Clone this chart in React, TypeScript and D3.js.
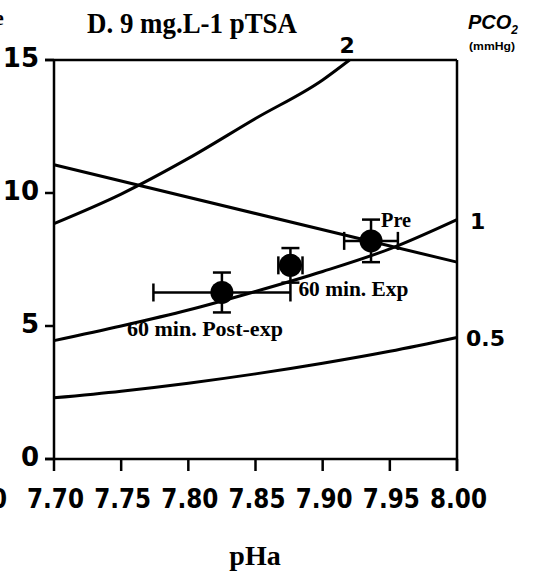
import { useEffect, useRef } from "react"
import * as d3 from "d3"

// pHa axis ticks and HCO3 axis ticks
const phTicks = [7.7, 7.75, 7.8, 7.85, 7.9, 7.95, 8.0]
const hco3Ticks = [0, 5, 10, 15]

// PCO2 isopleths
const isoPh = [7.7, 7.75, 7.8, 7.85, 7.9, 7.95, 8.0]
const isoHalf = [2.3, 2.55, 2.85, 3.2, 3.6, 4.05, 4.57]
const isoOne = [4.45, 5.0, 5.6, 6.3, 7.05, 7.9, 9.0]
const isoTwoPh = [7.7, 7.75, 7.8, 7.85, 7.9, 7.92]
const isoTwo = [8.85, 9.96, 11.3, 12.8, 14.25, 15.0]
const isoLabels = ["0.5", "1", "2"]

// non-bicarbonate buffer line
const bufferPh = [7.7, 8.0]
const bufferHco3 = [11.06, 7.4]

// mean values with error bars
const pointLabels = ["Pre", "60 min. Exp", "60 min. Post-exp"]
const pointPh = [7.936, 7.876, 7.825]
const pointHco3 = [8.2, 7.28, 6.26]
const pointPhErr = [0.02, 0.009, 0.051]
const pointHco3Err = [0.8, 0.65, 0.75]

export default function App() {
  const svgRef = useRef<SVGSVGElement>(null)

  useEffect(() => {
    if (!svgRef.current) return
    const svg = d3.select(svgRef.current)
    svg.selectAll("*").remove()

    const x = d3.scaleLinear().domain([7.7, 8.0]).range([54, 457])
    const y = d3.scaleLinear().domain([0, 15]).range([459, 60])
    const numFont = "'DejaVu Sans', sans-serif"
    const serif = "'Liberation Serif', 'Times New Roman', serif"

    // frame
    const frame = svg.append("g").attr("stroke", "#000").attr("stroke-width", 2.5).attr("fill", "none")
    frame.append("line").attr("x1", x(7.7)).attr("x2", x(7.7)).attr("y1", y(15)).attr("y2", y(0))
    frame.append("line").attr("x1", x(8.0)).attr("x2", x(8.0)).attr("y1", y(15)).attr("y2", y(0) + 12)
    frame.append("line").attr("x1", x(7.7) - 9).attr("x2", x(8.0)).attr("y1", y(15)).attr("y2", y(15))
    frame.append("line").attr("x1", x(7.7) - 9).attr("x2", x(8.0)).attr("y1", y(0)).attr("y2", y(0))

    // y ticks
    hco3Ticks.forEach((t) => {
      frame.append("line").attr("x1", x(7.7) - 9).attr("x2", x(7.7)).attr("y1", y(t)).attr("y2", y(t))
      svg
        .append("text")
        .attr("x", 39)
        .attr("y", y(t) - 2)
        .attr("dy", "0.36em")
        .attr("text-anchor", "end")
        .style("font-family", numFont)
        .style("font-weight", "bold")
        .style("font-size", "26px")
        .text(String(t))
    })

    // x ticks
    phTicks.forEach((t) => {
      frame.append("line").attr("x1", x(t)).attr("x2", x(t)).attr("y1", y(0)).attr("y2", y(0) + 12)
      svg
        .append("text")
        .attr("x", x(t) - 27)
        .attr("y", 508)
        .attr("textLength", 57)
        .attr("lengthAdjust", "spacingAndGlyphs")
        .style("font-family", numFont)
        .style("font-weight", "bold")
        .style("font-size", "27px")
        .text(t.toFixed(2))
    })

    // remnants of neighbouring panel
    svg
      .append("text")
      .attr("x", -50)
      .attr("y", 508)
      .attr("textLength", 57)
      .attr("lengthAdjust", "spacingAndGlyphs")
      .style("font-family", numFont)
      .style("font-weight", "bold")
      .style("font-size", "27px")
      .text("8.00")
    svg
      .append("text")
      .attr("x", -6)
      .attr("y", 25)
      .style("font-family", serif)
      .style("font-weight", "bold")
      .style("font-size", "22px")
      .text("e")

    // curves
    const line = d3
      .line<[number, number]>()
      .x((d) => x(d[0]))
      .y((d) => y(d[1]))
      .curve(d3.curveMonotoneX)

    const curves: [number, number][][] = [
      isoPh.map((p, i) => [p, isoHalf[i]]),
      isoPh.map((p, i) => [p, isoOne[i]]),
      isoTwoPh.map((p, i) => [p, isoTwo[i]]),
      bufferPh.map((p, i) => [p, bufferHco3[i]]),
    ]
    curves.forEach((c) => {
      svg
        .append("path")
        .datum(c)
        .attr("d", line)
        .attr("fill", "none")
        .attr("stroke", "#000")
        .attr("stroke-width", 3)
    })

    // isopleth labels
    const isoLabelPos = [
      [466, y(isoHalf[6]) + 9],
      [470, y(isoOne[6]) + 9],
      [x(isoTwoPh[5]) - 10, y(15) - 7],
    ]
    isoLabels.forEach((l, i) => {
      svg
        .append("text")
        .attr("x", isoLabelPos[i][0])
        .attr("y", isoLabelPos[i][1])
        .style("font-family", numFont)
        .style("font-weight", "bold")
        .style("font-size", "22px")
        .text(l)
    })

    // error bars and points
    const pts = svg.append("g").attr("stroke", "#000").attr("stroke-width", 2.5)
    const cap = 9
    pointLabels.forEach((_, i) => {
      const cx = x(pointPh[i])
      const cy = y(pointHco3[i])
      const x0 = x(pointPh[i] - pointPhErr[i])
      const x1 = x(pointPh[i] + pointPhErr[i])
      const y0 = y(pointHco3[i] - pointHco3Err[i])
      const y1 = y(pointHco3[i] + pointHco3Err[i])
      pts.append("line").attr("x1", x0).attr("x2", x1).attr("y1", cy).attr("y2", cy)
      pts.append("line").attr("x1", x0).attr("x2", x0).attr("y1", cy - cap).attr("y2", cy + cap)
      pts.append("line").attr("x1", x1).attr("x2", x1).attr("y1", cy - cap).attr("y2", cy + cap)
      pts.append("line").attr("x1", cx).attr("x2", cx).attr("y1", y0).attr("y2", y1)
      pts.append("line").attr("x1", cx - cap).attr("x2", cx + cap).attr("y1", y0).attr("y2", y0)
      pts.append("line").attr("x1", cx - cap).attr("x2", cx + cap).attr("y1", y1).attr("y2", y1)
      svg.append("circle").attr("cx", cx).attr("cy", cy).attr("r", 11.5).attr("fill", "#000")
    })

    // point labels
    const labelOffsets = [
      [10, -14],
      [8, 31],
      [-95, 44],
    ]
    const labelWidths = [30, 110, 156]
    pointLabels.forEach((l, i) => {
      svg
        .append("text")
        .attr("x", x(pointPh[i]) + labelOffsets[i][0])
        .attr("y", y(pointHco3[i]) + labelOffsets[i][1])
        .attr("textLength", labelWidths[i])
        .attr("lengthAdjust", "spacingAndGlyphs")
        .style("font-family", serif)
        .style("font-weight", "bold")
        .style("font-size", "20px")
        .text(l)
    })

    // title
    svg
      .append("text")
      .attr("x", 87)
      .attr("y", 33)
      .attr("textLength", 210)
      .attr("lengthAdjust", "spacingAndGlyphs")
      .style("font-family", serif)
      .style("font-weight", "bold")
      .style("font-size", "30px")
      .text("D. 9 mg.L-1 pTSA")

    // right axis title
    const pco2 = svg
      .append("text")
      .attr("x", 468)
      .attr("y", 29)
      .style("font-family", "'Liberation Sans', Arial, sans-serif")
      .style("font-weight", "bold")
      .style("font-style", "italic")
      .style("font-size", "20px")
    pco2.append("tspan").text("PCO")
    pco2.append("tspan").attr("dy", 5).style("font-size", "12px").text("2")
    svg
      .append("text")
      .attr("x", 469)
      .attr("y", 50)
      .attr("textLength", 46)
      .attr("lengthAdjust", "spacingAndGlyphs")
      .style("font-family", "'Liberation Sans', Arial, sans-serif")
      .style("font-weight", "bold")
      .style("font-size", "11px")
      .text("(mmHg)")

    // x axis title
    svg
      .append("text")
      .attr("x", 255)
      .attr("y", 565)
      .attr("text-anchor", "middle")
      .style("font-family", serif)
      .style("font-weight", "bold")
      .style("font-size", "28px")
      .text("pHa")
  }, [])

  return (
    <svg
      ref={svgRef}
      width={533}
      height={576}
      style={{ position: "absolute", left: 0, top: 0, background: "#fff" }}
    ></svg>
  )
}
